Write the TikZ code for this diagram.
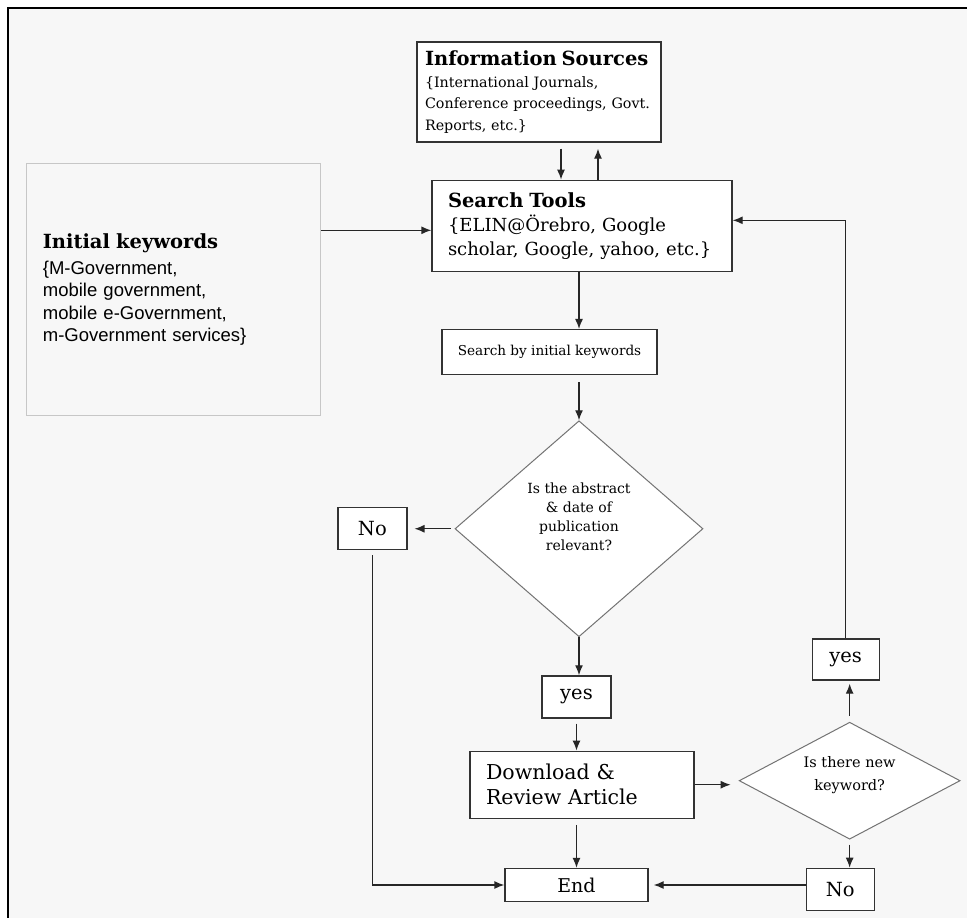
\documentclass[tikz,border=0pt]{standalone}
\usepackage{fontspec}
\setmainfont{DejaVu Serif}
\newfontfamily\kwfont{Liberation Sans}
\newfontfamily\titlefont{DejaVu Serif}
\usetikzlibrary{arrows.meta,positioning,shapes.geometric}
\definecolor{pagebg}{HTML}{F7F7F7}
\newcommand{\boxtitle}[1]{{\titlefont\fontsize{19.5}{23}\selectfont\bfseries #1}}

\begin{document}
\begin{tikzpicture}[x=1pt, y=-1pt,
node distance=40pt,
flowbox/.style={draw=black!80, line width=1.3pt, fill=white, inner sep=0pt, align=center},
srcbox/.style={flowbox, align=left, inner xsep=8pt, text width=228pt, minimum height=100pt, font=\fontsize{14.3}{21.5}\selectfont},
toolbox/.style={flowbox, align=left, inner xsep=16pt, text width=268pt, minimum height=91pt, font=\fontsize{18}{24}\selectfont},
keybox/.style={draw=black!22, line width=1pt, inner sep=0pt, inner xsep=16pt, align=left, text width=262pt, minimum height=252pt, font=\kwfont\fontsize{18.5}{22.3}\selectfont},
smallbox/.style={flowbox, minimum width=69pt, minimum height=42pt, font=\fontsize{19.5}{22}\selectfont},
decision/.style={diamond, draw=black!55, line width=1pt, fill=white, inner sep=0pt},
asktext/.style={align=center, font=\fontsize{14}{19}\selectfont},
arrow/.style={-{Latex[length=10pt,width=8pt]}, line width=1.3pt, draw=black!85}
]
\useasboundingbox (0,0) rectangle (967,918);
\fill[pagebg] (8,8) rectangle (967,918);
\draw[line width=2pt] (8,918) -- (8,8) -- (967,8);

\node[srcbox] (info) at (539,92) {\boxtitle{Information Sources}\\ \{International Journals,\\ Conference proceedings, Govt.\\ Reports, etc.\}};
\node[toolbox, below=37pt of info, xshift=43pt] (tools) {\boxtitle{Search Tools}\\ \{ELIN@Örebro, Google\\ scholar, Google, yahoo, etc.\}};
\node[keybox, left=110pt of tools, yshift=-63.5pt] (keys) {\boxtitle{Initial keywords}\\[4pt] \{M-Government,\\ mobile government,\\ mobile e-Government,\\ m-Government services\}\\[8pt]};
\node[flowbox, minimum width=215pt, minimum height=45pt, font=\fontsize{13.6}{16}\selectfont, below=57pt of tools, xshift=-32.5pt] (search) {Search by initial keywords};
\node[decision, minimum width=248pt, minimum height=216pt, below=45pt of search, xshift=29.5pt,
  label={[asktext, yshift=12pt]center:Is the abstract\\ \& date of\\ publication\\ relevant?}] (rel) {};
\node[smallbox, left=47pt of rel] (no1) {No};
\node[smallbox, below=38pt of rel, xshift=-2.5pt] (yes1) {yes};
\node[flowbox, align=left, inner xsep=16pt, text width=192pt, minimum height=67pt, font=\fontsize{20.5}{25}\selectfont, below=32pt of yes1, xshift=5.5pt] (dl) {Download \&\\ Review Article};
\node[flowbox, minimum width=143pt, minimum height=33pt, font=\fontsize{19}{22}\selectfont, below=49pt of dl, xshift=-5.5pt] (endbox) {End};
\node[decision, minimum width=221pt, minimum height=117pt, right=44pt of dl, yshift=4pt,
  label={[asktext, font=\fontsize{14.5}{23}\selectfont, yshift=6pt]center:Is there new\\ keyword?}] (kw) {};
\node[smallbox, minimum width=67pt, minimum height=41pt, above=41pt of kw, xshift=-4pt] (yes2) {yes};
\node[smallbox, minimum width=68pt, below=28pt of kw, xshift=-9.5pt] (no2) {No};

\coordinate (kin) at ([yshift=-4.5pt]tools.west);
\coordinate (back) at ([yshift=5.5pt]tools.east);

\draw[arrow, shorten <=6pt] ([xshift=22pt]info.south) -- ([xshift=22pt]info.south |- tools.north);
\draw[arrow, shorten >=6pt] ([xshift=16pt]tools.north) -- ([xshift=16pt]tools.north |- info.south);
\draw[arrow] (keys.east |- kin) -- (kin);
\draw[arrow] (rel.north |- tools.south) -- (rel.north |- search.north);
\draw[arrow, shorten <=7pt] (rel.north |- search.south) -- (rel.north);
\draw[arrow] (rel.south) -- (rel.south |- yes1.north);
\draw[arrow, shorten <=5pt] (yes1.south) -- (yes1.south |- dl.north);
\draw[arrow, shorten <=6pt] (endbox.north |- dl.south) -- (endbox.north);
\draw[arrow, shorten <=4pt, shorten >=7pt] (rel.west) -- (no1.east);
\draw[arrow, shorten <=5pt] (no1.south) |- (endbox.west);
\draw[arrow, shorten >=8pt] (dl.east) -- (dl.east -| kw.west);
\draw[arrow, shorten <=5pt] (kw.south) -- (kw.south |- no2.north);
\draw[arrow, shorten >=5pt] (endbox.east -| no2.west) -- (endbox.east);
\draw[arrow, shorten <=6pt, shorten >=3pt] (kw.north) -- (kw.north |- yes2.south);
\draw[arrow] (yes2.north) |- (back);
\end{tikzpicture}
\end{document}
